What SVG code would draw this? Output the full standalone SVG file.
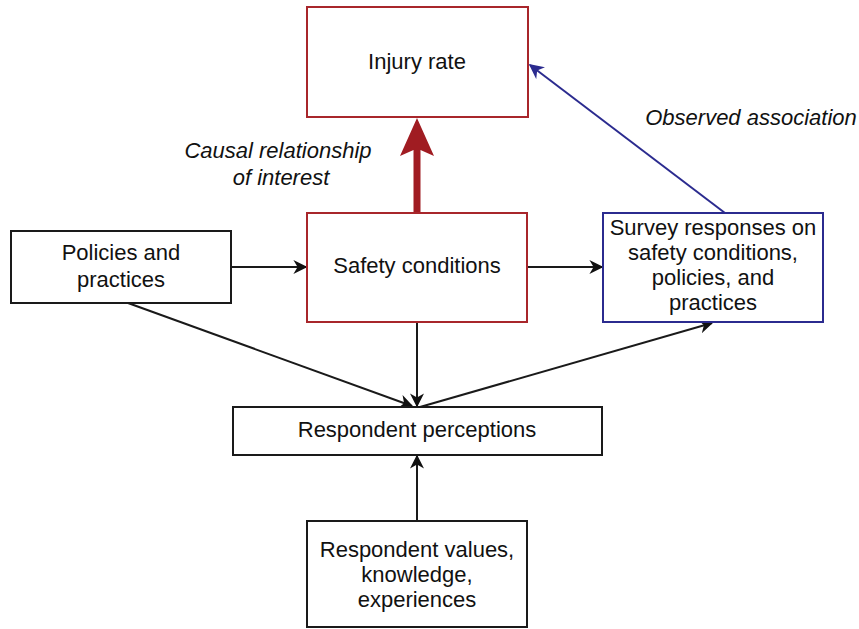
<svg xmlns="http://www.w3.org/2000/svg" width="859" height="629" viewBox="0 0 859 629">
<defs>
<style>
.box{fill:#fff;stroke-width:2}
.red{stroke:#a8262b}
.blk{stroke:#1a1a1a}
.blu{stroke:#2b2b8f}
text{font-family:"Liberation Sans",Arial,sans-serif;font-size:22px;fill:#111;text-anchor:middle}
.it{font-style:italic}
.ln{fill:none;stroke:#1a1a1a;stroke-width:2}
</style>
<marker id="ah" viewBox="0 0 10 10" refX="9" refY="5" markerWidth="14" markerHeight="14" markerUnits="userSpaceOnUse" orient="auto"><path d="M0,0 L10,5 L0,10 L3,5 Z" fill="#111"/></marker>
<marker id="ahb" viewBox="0 0 10 10" refX="9" refY="5" markerWidth="15" markerHeight="15" markerUnits="userSpaceOnUse" orient="auto"><path d="M0,0 L10,5 L0,10 L3,5 Z" fill="#2b2b8f"/></marker>
</defs>
<rect width="859" height="629" fill="#fff"/>
<g id="connectors">
<line class="ln" x1="231" y1="267" x2="306" y2="267" marker-end="url(#ah)"/>
<line class="ln" x1="527" y1="267" x2="602" y2="267" stroke="#555" stroke-width="1.5" marker-end="url(#ah)"/>
<line class="ln" x1="128" y1="303" x2="412" y2="406" marker-end="url(#ah)"/>
<line class="ln" x1="417" y1="322" x2="417" y2="406" marker-end="url(#ah)"/>
<line class="ln" x1="420" y1="407" x2="712" y2="323" marker-end="url(#ah)"/>
<line class="ln" x1="417" y1="521" x2="417" y2="456" marker-end="url(#ah)"/>
<line x1="725" y1="213" x2="530" y2="65" stroke="#2b2b8f" stroke-width="2" marker-end="url(#ahb)"/>
<path d="M413.5,213 L413.5,150 L400,156 L417,118 L434,156 L420.5,150 L420.5,213 Z" fill="#a01c22"/>
</g>
<g id="injury"><rect class="box red" x="307" y="7" width="221" height="110"/><text x="417" y="69">Injury rate</text></g>
<g id="causal-label"><text class="it" x="278" y="158">Causal relationship</text><text class="it" x="281" y="185">of interest</text></g>
<g id="observed-label"><text class="it" x="751" y="125">Observed association</text></g>
<g id="policies"><rect class="box blk" x="11" y="231" width="220" height="72"/><text x="121" y="260">Policies and</text><text x="121" y="287">practices</text></g>
<g id="safety"><rect class="box red" x="307" y="213" width="220" height="109"/><text x="417" y="273">Safety conditions</text></g>
<g id="survey"><rect class="box blu" x="603" y="213" width="220" height="109"/><text x="713" y="235">Survey responses on</text><text x="713" y="260">safety conditions,</text><text x="713" y="285">policies, and</text><text x="713" y="310">practices</text></g>
<g id="perceptions"><rect class="box blk" x="233" y="407" width="369" height="48"/><text x="417" y="437">Respondent perceptions</text></g>
<g id="values"><rect class="box blk" x="307" y="521" width="220" height="106"/><text x="417" y="557">Respondent values,</text><text x="417" y="582">knowledge,</text><text x="417" y="607">experiences</text></g>
</svg>
